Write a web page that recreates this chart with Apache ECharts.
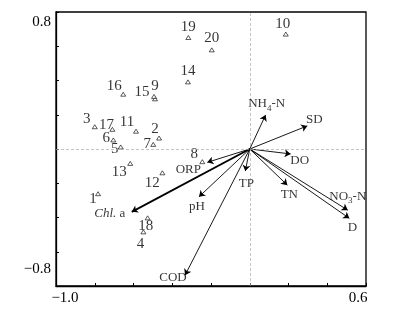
<!DOCTYPE html>
<html><head><meta charset="utf-8">
<script src="https://cdn.jsdelivr.net/npm/echarts@6/dist/echarts.min.js"></script>
<style>html,body{margin:0;padding:0;background:#fff}#c{width:418px;height:315px}</style>
</head><body><div id="c"></div>
<script>
// Sites (samples)
const sites = ['1','2','3','4','5','6','7','8','9','10','11','12','13','14','15','16','17','18','19','20'];
const siteX = [-0.783,-0.468,-0.800,-0.549,-0.666,-0.704,-0.498,-0.245,-0.489,0.186,-0.587,-0.451,-0.617,-0.319,-0.494,-0.653,-0.709,-0.527,-0.317,-0.196];
const siteY = [-0.261,0.064,0.130,-0.484,0.012,0.053,0.027,-0.074,0.293,0.671,0.104,-0.139,-0.084,0.392,0.307,0.320,0.115,-0.402,0.651,0.579];
// Environmental variables (arrow tips)
const envNames = ['NH4-N','SD','DO','TP','TN','NO3-N','D','pH','ORP','Chl.a','COD'];
const envX = [0.082,0.297,0.211,-0.023,0.194,0.506,0.514,-0.262,-0.219,-0.609,-0.334];
const envY = [0.199,0.135,-0.029,-0.129,-0.211,-0.357,-0.405,-0.279,-0.078,-0.367,-0.737];
// axis tick labels
const xTickLabels = {min:'−1.0', max:'0.6'};
const yTickLabels = {min:'−0.8', max:'0.8'};

// label styling (pixel offsets)
const siteLabelOffset = [[-5,5],[-4,-9],[-8,-8],[-3,12],[-6,2],[-7,-2],[-6,0],[-8,-8],[0,-13],[-3,-10],[-9,-9],[-10,10],[-11,9],[0,-11],[-12,-4],[-9,-8],[-6,-4],[-2,8],[0,-10],[0,-12]];
const envLabelOffset = [[1,-11],[7,-6],[9,7],[1,12],[2,9],[0,-14],[3,9],[-2,10],[-19,7],[-22,2],[-12,2]];
const envLabelText = ['NH{s|4}-N','SD','DO','TP','TN','NO{s|3}-N','D','pH','ORP','{i|Chl.} a','COD'];
const envWide = [false,false,false,false,false,false,false,false,false,true,false];

const FONT = 'Liberation Serif';
const chart = echarts.init(document.getElementById('c'), null, {renderer:'canvas'});

const siteData = sites.map((s,i)=>({
  value:[siteX[i], siteY[i]], name:s,
  label:{offset: siteLabelOffset[i]}
}));
const arrowData = envNames.map((n,i)=>({
  coords:[[0,0],[envX[i],envY[i]]],
  lineStyle:{width: envWide[i]?1.8:0.9}
}));
const envLabelData = envNames.map((n,i)=>({
  value:[envX[i],envY[i]], name:n,
  label:{offset: envLabelOffset[i], formatter: envLabelText[i]}
}));

const near=(a,b)=>Math.abs(a-b)<1e-6;

chart.setOption({
  animation:false,
  backgroundColor:'#fff',
  grid:{left:56,right:52,top:12,bottom:29,show:true,borderColor:'#000',borderWidth:1.3,backgroundColor:'transparent'},
  xAxis:{type:'value',min:-1,max:0.6,interval:0.2,
    axisLine:{onZero:false,lineStyle:{color:'#000',width:1.3}},
    axisTick:{inside:true,length:3,lineStyle:{color:'#000',width:1}},
    splitLine:{show:false},
    axisLabel:{margin:5,fontFamily:FONT,fontSize:15,color:'#000',showMinLabel:true,showMaxLabel:true,
      formatter:v=>near(v,-1)?'{a|'+xTickLabels.min+'}':(near(v,0.6)?'{b|'+xTickLabels.max+'}':''),
      rich:{a:{fontFamily:FONT,fontSize:15,color:'#000',padding:[0,0,0,18]},b:{fontFamily:FONT,fontSize:15,color:'#000',padding:[0,16,0,0]}}}
  },
  yAxis:{type:'value',min:-0.8,max:0.8,interval:0.2,
    axisLine:{onZero:false,lineStyle:{color:'#000',width:1.3}},
    axisTick:{inside:true,length:3,lineStyle:{color:'#000',width:1}},
    splitLine:{show:false},
    axisLabel:{margin:5,fontFamily:FONT,fontSize:15,color:'#000',showMinLabel:true,showMaxLabel:true,
      formatter:v=>near(v,-0.8)?'{a|'+yTickLabels.min+'}':(near(v,0.8)?'{b|'+yTickLabels.max+'}':''),
      rich:{a:{fontFamily:FONT,fontSize:15,color:'#000',padding:[0,0,34,0]},b:{fontFamily:FONT,fontSize:15,color:'#000',padding:[21,0,0,0]}}}
  },
  series:[
    {type:'scatter',data:[],silent:true,
      markLine:{silent:true,symbol:'none',label:{show:false},
        lineStyle:{color:'#aaa',type:[3,2],width:0.7},
        data:[{xAxis:0},{yAxis:0}]}},
    {type:'lines',coordinateSystem:'cartesian2d',silent:true,z:3,
      symbol:['none','arrow'],symbolSize:[0,6],
      lineStyle:{color:'#000',width:0.9,opacity:1},
      data:arrowData},
    {type:'scatter',symbol:'triangle',symbolSize:[5,4],z:4,silent:true,
      itemStyle:{color:'#fff',borderColor:'#000',borderWidth:0.8},
      label:{show:true,position:'inside',formatter:'{b}',fontFamily:FONT,fontSize:15,color:'#000',align:'center',verticalAlign:'middle'},
      data:siteData},
    {type:'scatter',symbolSize:0,z:5,silent:true,
      label:{show:true,position:'inside',fontFamily:FONT,fontSize:13,color:'#000',align:'center',verticalAlign:'middle',
        rich:{s:{fontFamily:FONT,fontSize:9,color:'#000',padding:[9,0,0,0]},i:{fontFamily:FONT,fontSize:13,fontStyle:'italic',color:'#000'}}},
      data:envLabelData}
  ]
});
</script></body></html>
